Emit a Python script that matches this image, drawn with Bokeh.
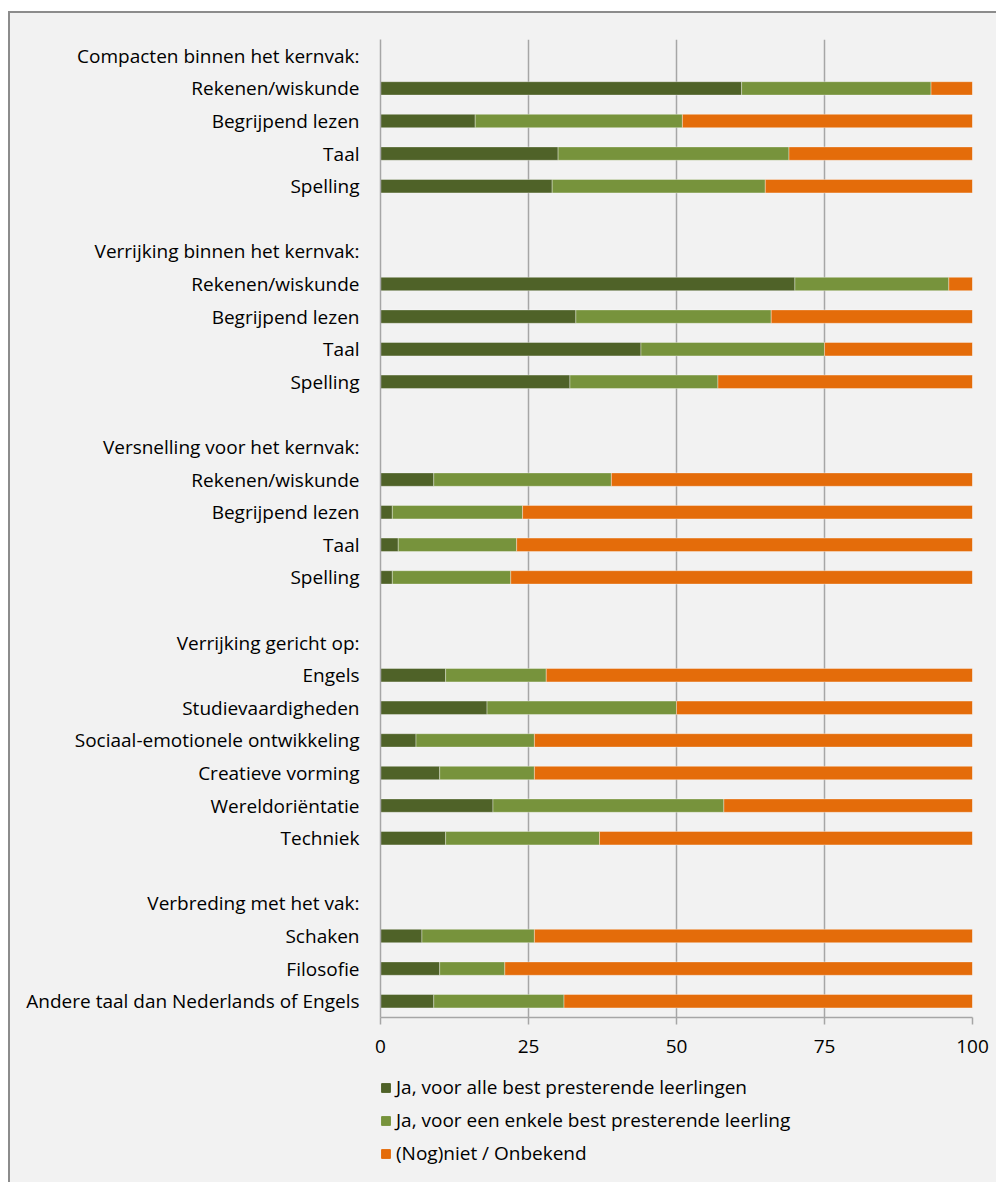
from bokeh.plotting import figure
from bokeh.layouts import column
from bokeh.models import Legend, LegendItem, FixedTicker, Range1d, ColumnDataSource
from bokeh.embed import file_html
from bokeh.resources import INLINE

# ---- data ----
groups = [
    "Compacten binnen het kernvak:",
    "Verrijking binnen het kernvak:",
    "Versnelling voor het kernvak:",
    "Verrijking gericht op:",
    "Verbreding met het vak:",
]
items = [
    ["Rekenen/wiskunde", "Begrijpend lezen", "Taal", "Spelling"],
    ["Rekenen/wiskunde", "Begrijpend lezen", "Taal", "Spelling"],
    ["Rekenen/wiskunde", "Begrijpend lezen", "Taal", "Spelling"],
    ["Engels", "Studievaardigheden", "Sociaal-emotionele ontwikkeling",
     "Creatieve vorming", "Wereldoriëntatie", "Techniek"],
    ["Schaken", "Filosofie", "Andere taal dan Nederlands of Engels"],
]
alle = [61, 16, 30, 29,
        70, 33, 44, 32,
        9, 2, 3, 2,
        11, 18, 6, 10, 19, 11,
        7, 10, 9]
enkele = [32, 35, 39, 36,
          26, 33, 31, 25,
          30, 22, 20, 20,
          17, 32, 20, 16, 39, 26,
          19, 11, 22]
niet = [7, 49, 31, 35,
        4, 34, 25, 43,
        61, 76, 77, 78,
        72, 50, 74, 74, 42, 63,
        74, 79, 69]
series = [
    "Ja, voor alle best presterende leerlingen",
    "Ja, voor een enkele best presterende leerling",
    "(Nog)niet / Onbekend",
]
x_ticks = [0, 25, 50, 75, 100]

colors = ["#4f6228", "#77933c", "#e46c0a"]
FONT = "Open Sans"
BG = "#f2f2f2"
GRID = "#a6a6a6"

# ---- rows ----
labels = {}
bar_y = []
y = 0
for g, its in zip(groups, items):
    labels[y] = g
    y += 1
    for it in its:
        labels[y] = it
        bar_y.append(y)
        y += 1
    y += 1
last_row = y - 2

source = ColumnDataSource(dict(y=bar_y, alle=alle, enkele=enkele, niet=niet))

p = figure(width=986, height=1052, output_backend="svg", toolbar_location=None,
           x_range=Range1d(0, 100), y_range=Range1d(last_row + 0.5, -0.5),
           background_fill_color=BG, border_fill_color=BG,
           min_border_left=370, min_border_right=24, min_border_top=26,
           min_border_bottom=48)
p.outline_line_color = None

rs = p.hbar_stack(["alle", "enkele", "niet"], y="y", height=0.41, color=colors,
                  line_color="white", line_alpha=0.35, line_width=1, source=source)

# grid
p.ygrid.grid_line_color = None
p.xgrid.ticker = FixedTicker(ticks=x_ticks)
p.xgrid.grid_line_color = GRID
p.xgrid.grid_line_width = 1.5

# x axis
p.xaxis.ticker = FixedTicker(ticks=x_ticks)
p.xaxis.axis_line_color = GRID
p.xaxis.axis_line_width = 1.5
p.xaxis.major_tick_line_color = GRID
p.xaxis.major_tick_line_width = 1.5
p.xaxis.major_tick_out = 7
p.xaxis.major_tick_in = 0
p.xaxis.minor_tick_line_color = None
p.xaxis.major_label_text_font = FONT
p.xaxis.major_label_text_font_size = "19px"
p.xaxis.major_label_text_color = "black"
p.xaxis.major_label_standoff = 15

# y axis
p.yaxis.ticker = FixedTicker(ticks=sorted(labels.keys()))
p.yaxis.major_label_overrides = labels
p.yaxis.axis_line_color = GRID
p.yaxis.axis_line_width = 1.5
p.yaxis.major_tick_line_color = None
p.yaxis.minor_tick_line_color = None
p.yaxis.major_label_text_font = FONT
p.yaxis.major_label_text_font_size = "19px"
p.yaxis.major_label_text_color = "black"
p.yaxis.major_label_standoff = 15

# ---- legend panel ----
q = figure(width=986, height=117, output_backend="svg", toolbar_location=None,
           x_range=Range1d(0, 1), y_range=Range1d(0, 1),
           background_fill_color=BG, border_fill_color=BG,
           min_border_left=369, min_border_right=0, min_border_top=9,
           min_border_bottom=0)
q.outline_line_color = None
q.axis.visible = False
q.grid.visible = False
# legend swatches only (placed outside the visible range)
dummies = [q.rect(x=[-10], y=[-10], width=1, height=1, color=c) for c in colors]
legend = Legend(items=[LegendItem(label=s, renderers=[r]) for s, r in zip(series, dummies)],
                location="top_left", orientation="vertical",
                background_fill_alpha=0, border_line_color=None,
                label_text_font=FONT, label_text_font_size="19px",
                label_text_color="black", glyph_width=11, glyph_height=11,
                label_height=25, spacing=7, padding=0, margin=0,
                label_standoff=5)
q.add_layout(legend)

layout = column(p, q, spacing=0)
layout.styles = {"border-top": "2px solid #8c8c8c", "border-left": "2px solid #8c8c8c",
                 "margin-top": "11px", "margin-left": "8px", "background": BG}

open("out.html", "w").write(file_html(layout, INLINE))
